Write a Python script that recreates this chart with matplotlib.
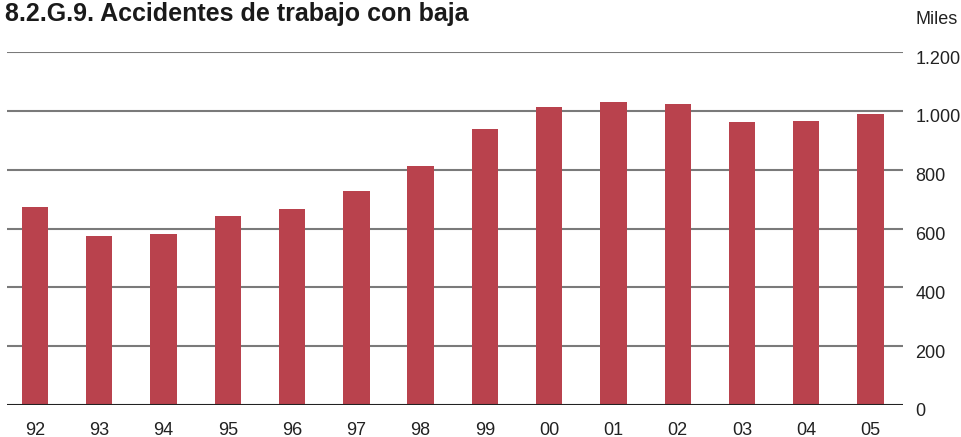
import matplotlib
matplotlib.use("Agg")
import matplotlib.pyplot as plt
import matplotlib.transforms as mtransforms
from matplotlib import font_manager

years = ["92", "93", "94", "95", "96", "97", "98", "99", "00", "01", "02", "03", "04", "05"]
values = [673, 575, 582, 643, 667, 728, 813, 939, 1014, 1031, 1024, 963, 966, 990]
yticks = [0, 200, 400, 600, 800, 1000, 1200]
ytick_labels = ["0", "200", "400", "600", "800", "1.000", "1.200"]
title = "8.2.G.9. Accidentes de trabajo con baja"
unit = "Miles"

names = {f.name for f in font_manager.fontManager.ttflist}
base = "Liberation Sans" if "Liberation Sans" in names else "DejaVu Sans"
narrow = "Liberation Sans Narrow" if "Liberation Sans Narrow" in names else base

W, H = 961, 437
fig = plt.figure(figsize=(W / 100, H / 100), dpi=100)
ax = fig.add_axes([7 / W, 1 - 405 / H, (903 - 7) / W, (405 - 52) / H])

bar_color = "#B9424D"
x = list(range(len(years)))
ax.bar(x, values, width=0.41, color=bar_color, zorder=3)

for v in yticks[1:]:
    ax.axhline(v, color="#7a7a7a", lw=1.5, zorder=1)
ax.axhline(0, color="#222222", lw=1.5, zorder=4)

ax.set_xlim(-0.436, len(years) - 1 + 0.506)
ax.set_ylim(0, 1200)
for s in ax.spines.values():
    s.set_visible(False)

ax.set_xticks(x)
ax.set_xticklabels(years, fontsize=13, family=[base, "DejaVu Sans"], color="#222222")
ax.tick_params(axis="x", length=0, pad=12)

ax.yaxis.tick_right()
ax.set_yticks(yticks)
ax.set_yticklabels(ytick_labels, fontsize=13, family=[base, "DejaVu Sans"], color="#222222")
ax.tick_params(axis="y", length=0, pad=9)
offset = mtransforms.ScaledTranslation(0, -5 / 100, fig.dpi_scale_trans)
for lab in ax.get_yticklabels():
    lab.set_transform(lab.get_transform() + offset)

fig.text(5 / W, 1 - 14 / H, title, fontsize=18, fontweight="heavy",
         family=[narrow, "DejaVu Sans"], ha="left", va="center", color="#1a1a1a")
fig.text(958 / W, 1 - 20 / H, unit, fontsize=13, family=[base, "DejaVu Sans"],
         ha="right", va="center", color="#222222")

fig.savefig("out.png", dpi=100)
